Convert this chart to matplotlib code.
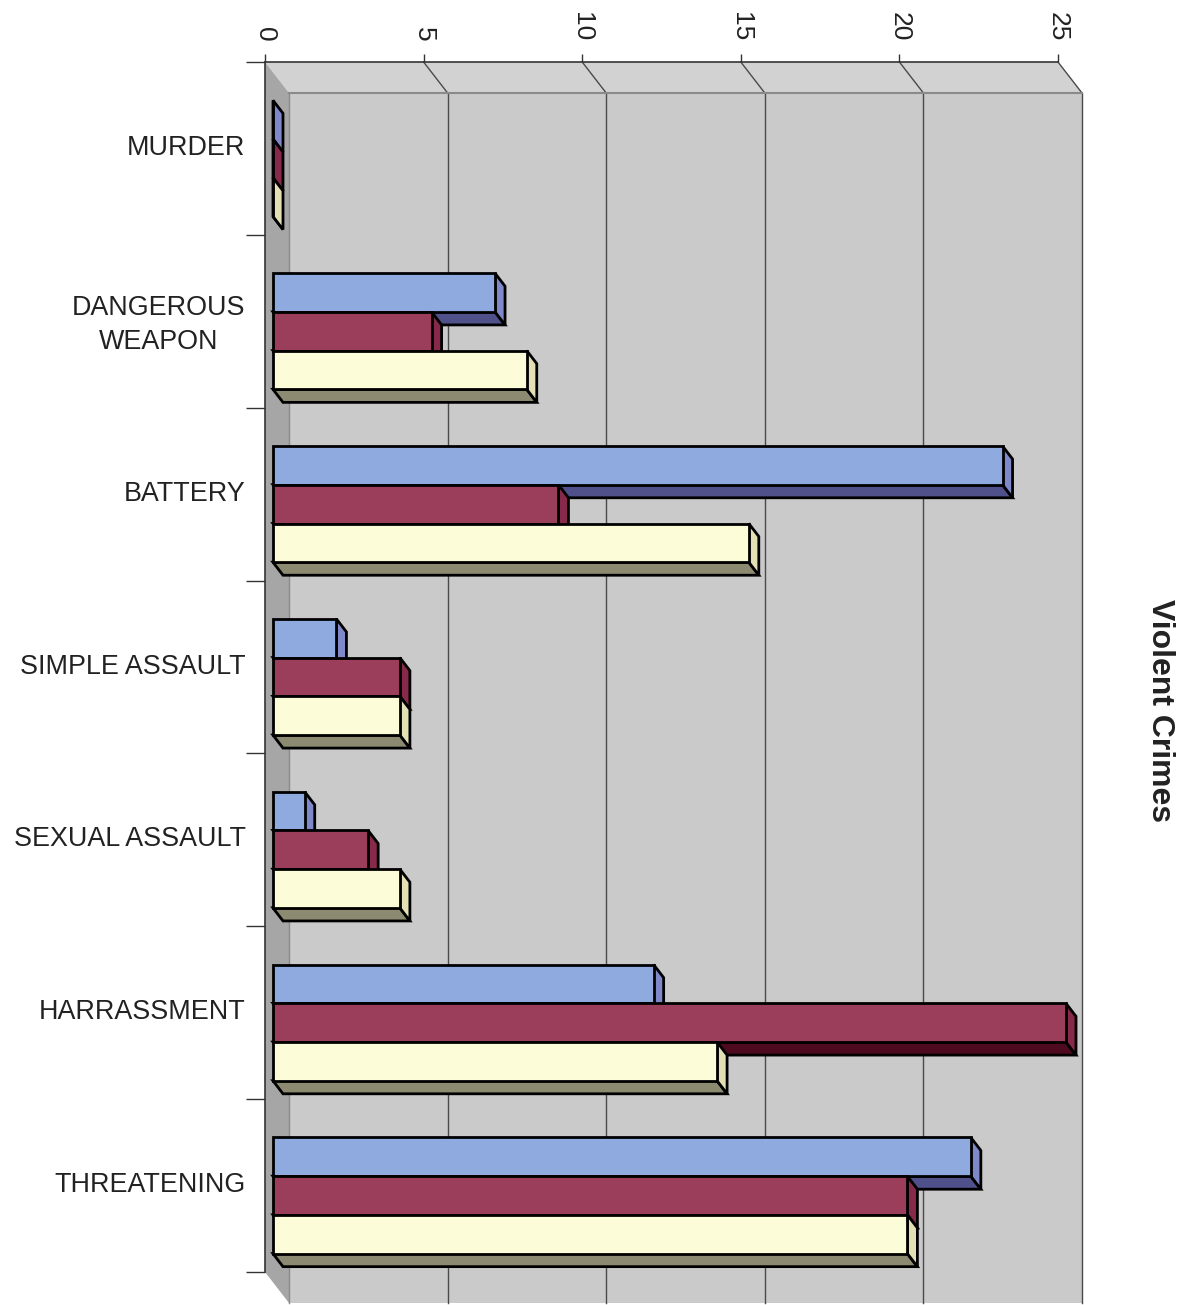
import matplotlib
matplotlib.use("Agg")
import matplotlib.pyplot as plt
from matplotlib.patches import Polygon

plt.rcParams["font.family"] = ["Liberation Sans", "DejaVu Sans"]

# violent crime counts per category, three series
categories = [
    "MURDER",
    "DANGEROUS\nWEAPON",
    "BATTERY",
    "SIMPLE ASSAULT",
    "SEXUAL ASSAULT",
    "HARRASSMENT",
    "THREATENING",
]
series_blue = [0, 7, 23, 2, 1, 12, 22]
series_red = [0, 5, 9, 4, 3, 25, 20]
series_cream = [0, 8, 15, 4, 4, 14, 20]
value_ticks = [0, 5, 10, 15, 20, 25]

# face colours: front, end, underside
palette = [
    ("#8eaadf", "#7f88c8", "#50508a"),
    ("#9a3e5c", "#86294a", "#4e0a1e"),
    ("#fdfcd8", "#e4e0b6", "#8d8a72"),
]

W, H = 1185, 1305
X0, X1 = 265, 1058      # front plane, value 0 .. 25
Y0, Y1 = 62, 1272       # front plane, category 0 .. 7
VMAX = 25
NCAT = len(categories)
px_x = (X1 - X0) / VMAX
px_y = (Y1 - Y0) / NCAT

# 3-d offsets in data units
wall_dx, wall_dy = 24 / px_x, 31 / px_y
bar_dx0, bar_dy0 = 8 / px_x, 10 / px_y
depth_dx, depth_dy = 10 / px_x, 13 / px_y
bar_h = 0.224
gap = (1 - 3 * bar_h) / 2

fig = plt.figure(figsize=(W / 100, H / 100), dpi=100)
ax = fig.add_axes([X0 / W, 1 - Y1 / H, (X1 - X0) / W, (Y1 - Y0) / H])
ax.set_xlim(0, VMAX)
ax.set_ylim(NCAT, 0)
ax.patch.set_visible(False)


def poly(pts, fc, ec="none", lw=0, z=1):
    ax.add_patch(Polygon(pts, closed=True, facecolor=fc, edgecolor=ec,
                         linewidth=lw, joinstyle="miter", clip_on=False,
                         zorder=z))


# back wall, top strip and left floor strip
poly([(wall_dx, wall_dy), (VMAX + wall_dx, wall_dy),
      (VMAX + wall_dx, NCAT + wall_dy), (wall_dx, NCAT + wall_dy)], "#cacaca")
poly([(0, 0), (VMAX, 0), (VMAX + wall_dx, wall_dy), (wall_dx, wall_dy)],
     "#d2d2d2")
poly([(0, 0), (wall_dx, wall_dy), (wall_dx, NCAT + wall_dy), (0, NCAT)],
     "#a6a6a6")

# gridlines on the wall and across the top strip
for v in value_ticks[1:]:
    ax.plot([v + wall_dx, v + wall_dx], [wall_dy, NCAT + wall_dy],
            color="#4a4a4a", lw=1, clip_on=False, zorder=2)
    ax.plot([v, v + wall_dx], [0, wall_dy],
            color="#4a4a4a", lw=1, clip_on=False, zorder=2)
ax.plot([wall_dx, VMAX + wall_dx], [wall_dy, wall_dy],
        color="#8a8a8a", lw=1.5, clip_on=False, zorder=2)
ax.plot([wall_dx, wall_dx], [wall_dy, NCAT + wall_dy],
        color="#8a8a8a", lw=1, clip_on=False, zorder=2)


def draw_bar(value, top, colors, z):
    front, end, under = colors
    left = bar_dx0
    right = bar_dx0 + value
    bottom = top + bar_h
    poly([(left, bottom), (right, bottom),
          (right + depth_dx, bottom + depth_dy),
          (left + depth_dx, bottom + depth_dy)], under, "black", 2, z)
    poly([(right, top), (right + depth_dx, top + depth_dy),
          (right + depth_dx, bottom + depth_dy), (right, bottom)],
         end, "black", 2, z)
    poly([(left, top), (right, top), (right, bottom), (left, bottom)],
         front, "black", 2, z)


z = 3
for k in range(NCAT):
    for i, series in enumerate([series_blue, series_red, series_cream]):
        top = k + bar_dy0 + gap + i * bar_h
        draw_bar(series[k], top, palette[i], z)
        z += 1

# axes: values along the top, categories on the left
for side in ["right", "bottom"]:
    ax.spines[side].set_visible(False)
for side in ["top", "left"]:
    ax.spines[side].set_color("#333333")
    ax.spines[side].set_linewidth(1.2)
    ax.spines[side].set_zorder(50)

ax.xaxis.tick_top()
ax.set_xticks(value_ticks)
ax.set_xticklabels([str(v) for v in value_ticks], rotation=-90)
ax.tick_params(axis="x", which="major", length=6, width=1, color="#333333",
               pad=9, labelsize=19, labelcolor="#222222")

ax.set_yticks([k + 0.48 for k in range(NCAT)])
ax.set_yticklabels(categories, linespacing=1.4, multialignment="center")
ax.set_yticks(range(NCAT + 1), minor=True)
ax.tick_params(axis="y", which="major", length=0, pad=14, labelsize=19.4,
               labelcolor="#222222")
ax.tick_params(axis="y", which="minor", length=14, width=1, color="#333333")

fig.text(1160 / W, 1 - 711 / H, "Violent Crimes", rotation=-90,
         fontsize=23, fontweight="bold", color="#222222",
         ha="center", va="center")

fig.savefig("out.png", dpi=100, facecolor="white")
